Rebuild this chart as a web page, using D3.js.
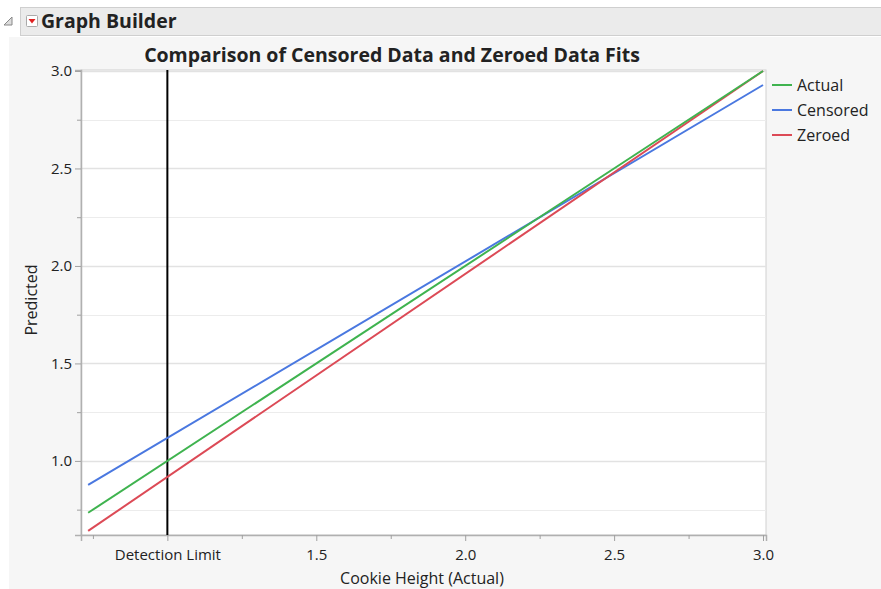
<!DOCTYPE html>
<html>
<head>
<meta charset="utf-8">
<script src="https://cdn.jsdelivr.net/npm/d3@7"></script>
<style>
  body { margin: 0; background: #fff; font-family: "Open Sans", "Noto Sans", sans-serif; }
  text { fill: #222; }
</style>
</head>
<body>
<div id="chart"></div>
<script>
// Data
const xEnds = [0.734, 3.0];
const seriesNames = ["Actual", "Censored", "Zeroed"];
const actualVals = [0.734, 3.0];
const censoredVals = [0.877, 2.928];
const zeroedVals = [0.641, 3.0];
const seriesColors = ["#3fb34f", "#4a78e0", "#dc4a56"];
const xTickVals = [1.0, 1.5, 2.0, 2.5, 3.0];
const xTickLabels = ["Detection Limit", "1.5", "2.0", "2.5", "3.0"];
const xMinorVals = [0.75, 1.25, 1.75, 2.25, 2.75];
const yTickVals = [1.0, 1.5, 2.0, 2.5, 3.0];
const yMinorVals = [0.75, 1.25, 1.75, 2.25, 2.75];
const detectionLimit = 1.0;

const width = 881, height = 589;
const margin = { top: 70, right: 115, bottom: 54, left: 81 };

const svg = d3.select("#chart").append("svg")
  .attr("width", width).attr("height", height);

// background panel + header bar
svg.append("rect").attr("x", 9).attr("y", 37).attr("width", width - 9).attr("height", height - 37)
  .attr("fill", "#f6f6f6");
svg.append("rect").attr("x", 20.5).attr("y", 7.5).attr("width", width - 20).attr("height", 28)
  .attr("fill", "#ebebeb").attr("stroke", "#cfcfcf");
svg.append("path").attr("d", "M4,25 L12,25 L12,17 Z").attr("fill", "#ddd").attr("stroke", "#888");
svg.append("rect").attr("x", 26.5).attr("y", 15.5).attr("width", 11).attr("height", 11)
  .attr("fill", "#fff").attr("stroke", "#aaa").attr("rx", 1);
svg.append("path").attr("d", "M28.5,19 L35.5,19 L32,23.5 Z").attr("fill", "#e02020");
svg.append("text").attr("x", 41).attr("y", 28).text("Graph Builder")
  .style("font-size", "19.5px").style("font-weight", "bold");

// scales
const x = d3.scaleLinear().domain([0.71, 3.01]).range([margin.left, width - margin.right]);
const y = d3.scaleLinear().domain([0.62, 3.005]).range([height - margin.bottom, margin.top]);

// plot area
svg.append("rect")
  .attr("x", margin.left).attr("y", margin.top)
  .attr("width", x.range()[1] - margin.left).attr("height", y.range()[0] - margin.top)
  .attr("fill", "#fff").attr("stroke", "#d0d0d0");

// grid lines
svg.append("g").selectAll("line").data(yMinorVals).enter().append("line")
  .attr("x1", margin.left).attr("x2", x.range()[1])
  .attr("y1", d => Math.round(y(d)) + 0.5).attr("y2", d => Math.round(y(d)) + 0.5)
  .attr("stroke", "#ececec");
svg.append("g").selectAll("line").data(yTickVals).enter().append("line")
  .attr("x1", margin.left).attr("x2", x.range()[1])
  .attr("y1", d => Math.round(y(d)) + 0.5).attr("y2", d => Math.round(y(d)) + 0.5)
  .attr("stroke", "#e2e2e2").attr("stroke-width", 1.5);

// axes
svg.append("g")
  .attr("transform", `translate(0,${y.range()[0]})`)
  .call(d3.axisBottom(x).tickValues(xTickVals).tickFormat((d, i) => xTickLabels[i])
    .tickSize(6).tickPadding(8));
svg.append("g")
  .attr("transform", `translate(0,${y.range()[0]})`)
  .call(d3.axisBottom(x).tickValues(xMinorVals).tickFormat("").tickSize(4))
  .call(g => g.select(".domain").remove());
svg.append("g")
  .attr("transform", `translate(${margin.left},0)`)
  .call(d3.axisLeft(y).tickValues(yTickVals).tickFormat(d3.format(".1f"))
    .tickSize(6).tickPadding(3));
svg.append("g")
  .attr("transform", `translate(${margin.left},0)`)
  .call(d3.axisLeft(y).tickValues(yMinorVals).tickFormat("").tickSize(4))
  .call(g => g.select(".domain").remove());

svg.selectAll(".domain").attr("stroke", "#b0b0b0").attr("stroke-width", 1.5);
svg.selectAll(".tick line").attr("stroke", "#a0a0a0");
svg.selectAll(".tick text").style("font-size", "15px").style("font-family", "'Open Sans', sans-serif").attr("fill", "#222");

// detection limit line
svg.append("line")
  .attr("x1", x(detectionLimit)).attr("x2", x(detectionLimit))
  .attr("y1", margin.top).attr("y2", y.range()[0])
  .attr("stroke", "#000").attr("stroke-width", 2);

// series lines
const seriesVals = [actualVals, censoredVals, zeroedVals];
const line = d3.line().x((d, i) => x(xEnds[i])).y(d => y(d));
// draw order: censored, zeroed, actual on top
[1, 2, 0].forEach(k => {
  svg.append("path").datum(seriesVals[k])
    .attr("d", line).attr("fill", "none")
    .attr("stroke", seriesColors[k]).attr("stroke-width", 2);
});

// title
svg.append("text").attr("x", 392).attr("y", 62).attr("text-anchor", "middle")
  .text("Comparison of Censored Data and Zeroed Data Fits")
  .style("font-size", "19.5px").style("font-weight", "bold").attr("fill", "#000");

// axis titles
svg.append("text").attr("x", 422).attr("y", 584).attr("text-anchor", "middle")
  .text("Cookie Height (Actual)").style("font-size", "16px");
svg.append("text").attr("transform", "translate(37,300) rotate(-90)").attr("text-anchor", "middle")
  .text("Predicted").style("font-size", "16px");

// legend
const legend = svg.append("g").selectAll("g").data(seriesNames).enter().append("g")
  .attr("transform", (d, i) => `translate(772,${85 + i * 25})`);
legend.append("line").attr("x1", 0).attr("x2", 20)
  .attr("stroke", (d, i) => seriesColors[i]).attr("stroke-width", 2);
legend.append("text").attr("x", 25).attr("y", 6).text(d => d).style("font-size", "16px");
</script>
</body>
</html>
